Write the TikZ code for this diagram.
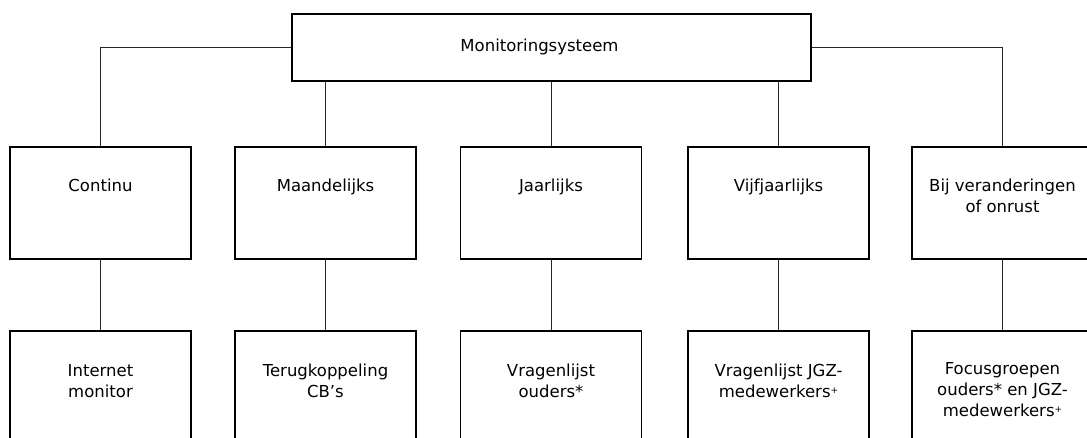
\documentclass[tikz,border=0pt]{standalone}
\usepackage{fontspec}
\setmainfont{DejaVu Sans}
\usetikzlibrary{positioning,calc}

\newcommand{\plusmark}{\raisebox{0.45ex}{\fontsize{9}{9}\selectfont+}}

\begin{document}
\begin{tikzpicture}[x=1pt,y=-1pt,
        box/.style={draw,line width=1.3pt,minimum width=181pt,minimum height=112pt,inner sep=0pt},
        lbl/.style={anchor=north,align=center,inner sep=0pt,font=\fontsize{16.5}{21}\selectfont},
        con/.style={black!85,line width=1pt}]
        \useasboundingbox (0,0) rectangle (1087,437);
        \clip (0,0) rectangle (1087,437);

        \node[draw,line width=1.3pt,minimum width=519pt,minimum height=67pt,inner sep=0pt](mon)at(551.5,47.5){};
        \node[lbl,anchor=base](mon-t)at($(mon.center)+(-12,3.5)$){Monitoringsysteem};

        % frequentie
        \node[box](cont)at(100.5,203){};
        \node[box](maand)at(325.5,203){};
        \node[box](jaar)at(551,203){};
        \node[box](vijf)at(778.5,203){};
        \node[box](bij)at(1002.5,203){};

        \node[lbl,below=32.5pt of cont.north](cont-t){Continu};
        \node[lbl,below=32.5pt of maand.north](maand-t){Maandelijks};
        \node[lbl,below=32.5pt of jaar.north](jaar-t){Jaarlijks};
        \node[lbl,below=32.5pt of vijf.north](vijf-t){Vijfjaarlijks};
        \node[lbl,below=32.5pt of bij.north](bij-t){Bij veranderingen\\of onrust};

        % instrumenten
        \node[box](inet)at(100.5,387){};
        \node[box](terug)at(325.5,387){};
        \node[box](vro)at(551,387){};
        \node[box](vrj)at(778.5,387){};
        \node[box](focus)at(1002.5,387){};

        \node[lbl,below=33.5pt of inet.north](inet-t){Internet\\monitor};
        \node[lbl,below=33.5pt of terug.north](terug-t){Terugkoppeling\\CB’s};
        \node[lbl,below=33.5pt of vro.north](vro-t){Vragenlijst\\ouders*};
        \node[lbl,below=33.5pt of vrj.north](vrj-t){Vragenlijst JGZ-\\medewerkers\plusmark};
        \node[lbl,below=32pt of focus.north](focus-t){Focusgroepen\\ouders* en JGZ-\\medewerkers\plusmark};

        \draw[con] (mon.west) -| (cont.north);
        \draw[con] (mon.east) -| (bij.north);
        \draw[con] (mon.south -| maand.north) -- (maand.north);
        \draw[con] (mon.south -| jaar.north) -- (jaar.north);
        \draw[con] (mon.south -| vijf.north) -- (vijf.north);

        \draw[con] (cont) -- (inet);
        \draw[con] (maand) -- (terug);
        \draw[con] (jaar) -- (vro);
        \draw[con] (vijf) -- (vrj);
        \draw[con] (bij) -- (focus);
    \end{tikzpicture}
\end{document}
